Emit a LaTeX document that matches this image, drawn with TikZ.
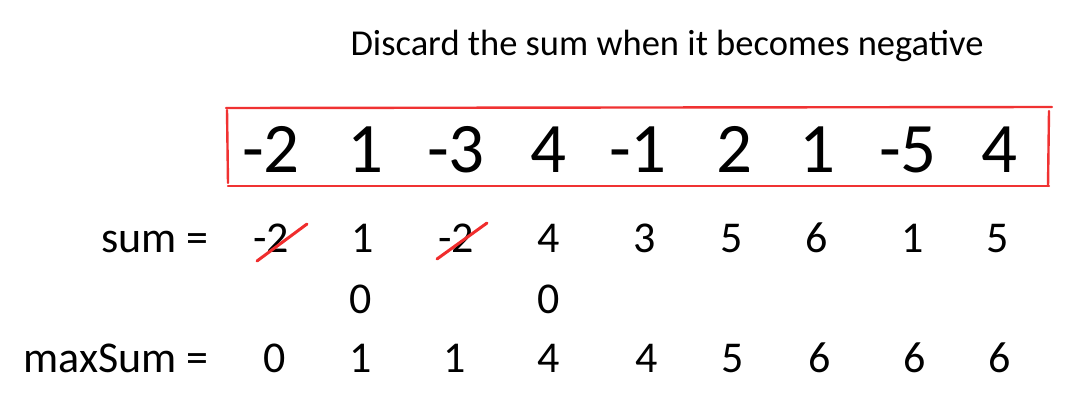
\documentclass[tikz,border=0pt]{standalone}
\usepackage{fontspec}
\setmainfont{Carlito}
\begin{document}
\begin{tikzpicture}[x=1pt,y=-1pt,
  big/.style={anchor=base,inner sep=0pt,font=\fontsize{71}{71}\selectfont},
  val/.style={anchor=base,inner sep=0pt,font=\fontsize{44}{44}\selectfont},
  lab/.style={anchor=base east,inner sep=0pt,font=\fontsize{44}{44}\selectfont},
  ttl/.style={anchor=base,inner sep=0pt,font=\fontsize{36.5}{36.5}\selectfont},
  redline/.style={draw={rgb,255:red,240;green,50;blue,50},line width=2.4pt,line cap=round},
  strike/.style={draw={rgb,255:red,240;green,45;blue,45},line width=3pt,line cap=round}]
\useasboundingbox (0,0) rectangle (1089,402);
\node[ttl] (title) at (667,55) {Discard the sum when it becomes negative};
% array
\foreach \v/\x [count=\i] in {-2/271,1/365,-3/456,4/548,-1/638,2/734,1/817,-5/908,4/999}
  \node[big] (a\i) at (\x,172) {\v};
% red box (sketchy)
\coordinate (tl) at (226,108);
\coordinate (tr) at (1052,107);
\coordinate (bl) at (228,186);
\coordinate (br) at (1049,186);
\draw[redline] (227,110) -- (228,183);
\draw[redline] (tl) -- (tr);
\draw[redline] (bl) -- (br);
\draw[redline] (1049,111) -- (1048,186);
% sum row
\node[lab] (sumlab) at (209,252) {sum =};
\foreach \v/\x [count=\i] in {-2/271,1/363,-2/456,4/549,3/645,5/732,6/817,1/913,5/998}
  \node[val] (s\i) at (\x,252) {\v};
\draw[strike] (257,261) -- (307,224);
\draw[strike] (437,259) -- (487,223);
% zero row
\node[val] (z1) at (361,313) {0};
\node[val] (z2) at (549,313) {0};
% maxSum row
\node[lab] (maxlab) at (209,372) {maxSum =};
\foreach \v/\x [count=\i] in {0/275,1/361,1/455,4/549,4/647,5/733,6/820,6/915,6/1000}
  \node[val] (m\i) at (\x,372) {\v};
\end{tikzpicture}
\end{document}
